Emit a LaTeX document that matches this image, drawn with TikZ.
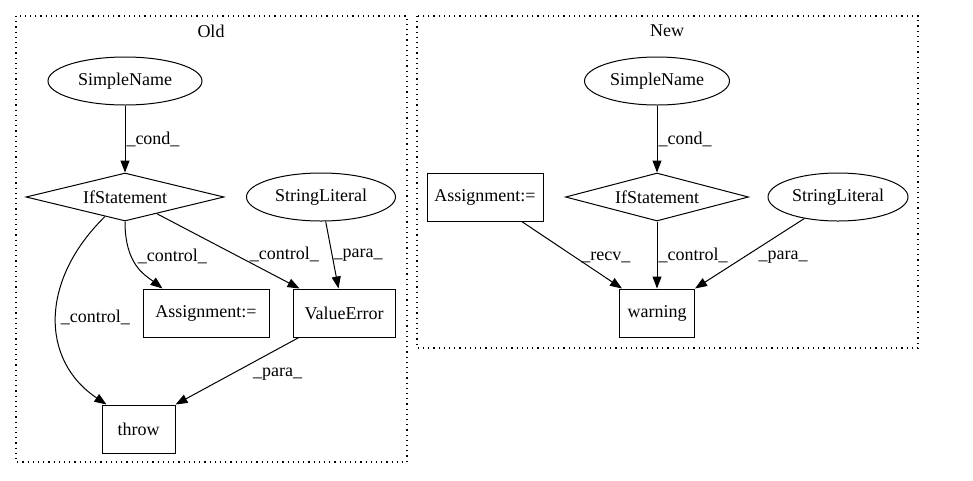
\documentclass[tikz,border=0pt]{standalone}
\usepackage{fontspec}
\setmainfont{Liberation Serif}
\usetikzlibrary{shapes.geometric, arrows.meta}

\begin{document}
\begin{tikzpicture}[x=1pt, y=-1pt, font=\fontsize{18}{20}\selectfont, line width=1pt]
  \tikzstyle{ast}=[draw, inner sep=0pt, minimum height=48pt]
  \tikzstyle{leaf}=[ast, ellipse]
  \tikzstyle{cond}=[ast, diamond, aspect=4]
  \tikzstyle{stmt}=[ast, rectangle]
  \tikzstyle{flow}=[-{Triangle[length=12pt, width=9pt]}]
  \tikzstyle{lbl}=[anchor=west, inner sep=1pt]
  \tikzstyle{cluster}=[draw, dash pattern=on 1.2pt off 4pt, line width=1.2pt]

  \useasboundingbox (0,0) rectangle (973,480);

  \draw[cluster] (16,16) rectangle (407,462);
  \draw[cluster] (417,16) rectangle (918,348);
  \node (oldtitle) at (211,31) {Old};
  \node (newtitle) at (667,31) {New};

  \node (nameold) at (125,81) [leaf, minimum width=154pt] {SimpleName};
  \node (ifold) at (125,197) [cond, minimum width=198pt] {IfStatement};
  \node (strold) at (321,197) [leaf, minimum width=149pt] {StringLiteral};
  \node (assignold) at (206,313) [stmt, minimum width=126pt] {Assignment:=};
  \node (valerr) at (344,313) [stmt, minimum width=102pt] {ValueError};
  \node (throw) at (138.5,429) [stmt, minimum width=73pt] {throw};

  \draw[flow] (nameold) -- (ifold) node[lbl, midway] {\_cond\_};
  \draw[flow] (ifold) .. controls (40,280) and (40,360) .. ([xshift=5pt]throw.north west)
    node[lbl, pos=0.5, inner sep=4pt] {\_control\_};
  \draw[flow] (ifold) .. controls (125,265) and (145,275) .. ([xshift=20pt]assignold.north west)
    node[lbl, pos=0.35, inner sep=6pt] {\_control\_};
  \draw[flow] (ifold) -- ([xshift=7pt]valerr.north west)
    node[lbl, pos=0.55, xshift=11pt, inner sep=3pt] {\_control\_};
  \draw[flow] (strold) -- ([xshift=46pt]valerr.north west) node[lbl, midway] {\_para\_};
  \draw[flow] (valerr) -- (throw.north east)
    node[lbl, pos=0.4, anchor=north west, inner sep=3pt] {\_para\_};

  \node (namenew) at (657,81) [leaf, minimum width=145pt] {SimpleName};
  \node (ifnew) at (657,197) [cond, minimum width=183pt] {IfStatement};
  \node (strnew) at (838,197) [leaf, minimum width=140pt] {StringLiteral};
  \node (assignnew) at (485,197) [stmt, minimum width=116pt] {Assignment:=};
  \node (warning) at (657,313) [stmt, minimum width=75pt] {warning};

  \draw[flow] (namenew) -- (ifnew) node[lbl, midway] {\_cond\_};
  \draw[flow] (ifnew) -- (warning) node[lbl, midway] {\_control\_};
  \draw[flow] (assignnew) -- ([xshift=3pt]warning.north west)
    node[lbl, pos=0.53, xshift=3pt, inner sep=3pt] {\_recv\_};
  \draw[flow] (strnew) -- (warning.north east)
    node[lbl, pos=0.55, xshift=11pt, inner sep=3pt] {\_para\_};
\end{tikzpicture}
\end{document}
